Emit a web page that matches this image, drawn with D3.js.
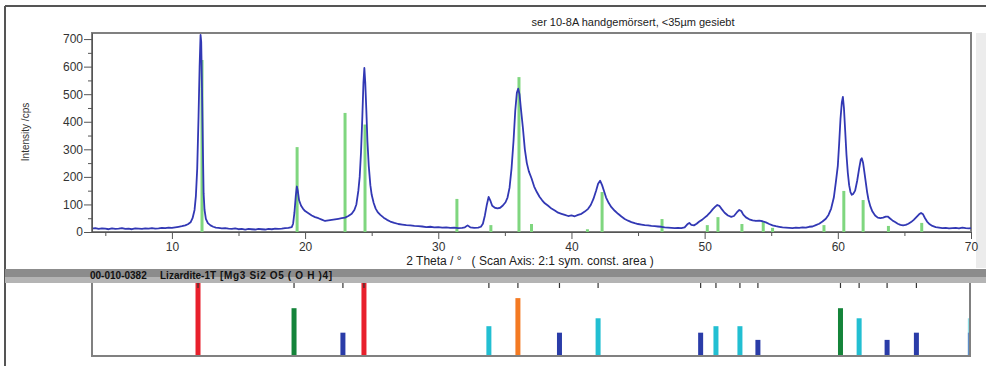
<!DOCTYPE html>
<html>
<head>
<meta charset="utf-8">
<script src="https://cdn.jsdelivr.net/npm/d3@7"></script>
<style>
  body { margin: 0; background: #fff; }
  svg { display: block; font-family: "Liberation Sans", Arial, sans-serif; }
  .axis path, .axis line { stroke: #555; }
  .axis text { fill: #333; font-size: 12px; }
</style>
</head>
<body>
<svg id="chart" width="986" height="366"></svg>
<script>
// measured scan, [2theta, counts]
const scan = [
  [4.0, 12], [4.25, 14], [4.5, 11], [4.75, 13], [5.0, 12], [5.25, 10], [5.5, 13], [5.75, 11],
  [6.0, 12], [6.25, 14], [6.5, 11], [6.75, 12], [7.0, 10], [7.25, 13], [7.5, 12], [7.75, 11],
  [8.0, 13], [8.25, 12], [8.5, 14], [8.75, 12], [9.0, 13], [9.25, 15], [9.5, 14], [9.75, 16],
  [10.0, 15], [10.25, 17], [10.5, 19], [10.75, 21], [11.0, 24], [11.2, 28], [11.4, 35], [11.55, 50],
  [11.7, 80], [11.8, 130], [11.9, 230], [12.0, 420], [12.08, 600], [12.15, 715], [12.2, 690],
  [12.26, 520], [12.32, 320], [12.38, 140], [12.45, 80], [12.55, 48], [12.7, 32], [12.9, 24],
  [13.1, 19], [13.3, 16], [13.5, 15], [13.75, 13], [14.0, 14], [14.25, 12], [14.5, 11], [14.75, 13],
  [15.0, 10], [15.25, 11], [15.5, 9], [15.75, 11], [16.0, 10], [16.25, 9], [16.5, 11], [16.75, 10],
  [17.0, 9], [17.25, 11], [17.5, 10], [17.75, 12], [18.0, 11], [18.25, 12], [18.5, 14], [18.75, 15],
  [19.0, 18], [19.1, 30], [19.2, 70], [19.3, 130], [19.38, 165], [19.45, 150], [19.55, 115],
  [19.7, 95], [19.85, 84], [20.0, 76], [20.25, 68], [20.5, 60], [20.75, 54], [21.0, 50], [21.25, 45],
  [21.5, 40], [21.75, 42], [22.0, 44], [22.25, 46], [22.5, 48], [22.75, 50], [23.0, 52], [23.25, 58],
  [23.5, 66], [23.7, 80], [23.85, 100], [24.0, 150], [24.1, 200], [24.2, 290], [24.3, 420],
  [24.38, 540], [24.45, 595], [24.52, 540], [24.6, 440], [24.68, 330], [24.78, 240], [24.9, 170],
  [25.0, 135], [25.15, 105], [25.3, 85], [25.45, 72], [25.65, 62], [25.9, 52], [26.15, 44],
  [26.4, 38], [26.7, 33], [27.0, 29], [27.3, 27], [27.6, 25], [27.9, 24], [28.2, 22], [28.5, 21],
  [28.8, 20], [29.1, 18], [29.4, 19], [29.7, 17], [30.0, 18], [30.3, 16], [30.6, 17], [30.9, 15],
  [31.2, 16], [31.5, 14], [31.8, 15], [32.0, 17], [32.2, 24], [32.4, 17], [32.7, 15], [33.0, 16],
  [33.2, 19], [33.35, 30], [33.5, 60], [33.65, 100], [33.78, 127], [33.9, 115], [34.05, 95],
  [34.25, 88], [34.45, 86], [34.65, 88], [34.85, 96], [35.05, 108], [35.2, 125], [35.35, 160],
  [35.5, 230], [35.65, 330], [35.78, 440], [35.9, 505], [36.0, 520], [36.1, 500], [36.2, 450],
  [36.35, 380], [36.5, 300], [36.65, 250], [36.8, 220], [37.0, 195], [37.2, 165], [37.4, 145],
  [37.6, 128], [37.8, 115], [38.0, 104], [38.25, 95], [38.5, 85], [38.75, 78], [39.0, 70],
  [39.25, 66], [39.5, 62], [39.75, 58], [40.0, 60], [40.25, 57], [40.5, 62], [40.75, 66], [41.0, 74],
  [41.25, 84], [41.45, 98], [41.65, 120], [41.85, 150], [42.0, 175], [42.15, 186], [42.3, 170],
  [42.45, 148], [42.6, 125], [42.8, 105], [43.0, 90], [43.25, 77], [43.5, 66], [43.75, 56],
  [44.0, 47], [44.25, 41], [44.5, 36], [44.75, 32], [45.0, 29], [45.25, 27], [45.5, 25], [45.75, 24],
  [46.0, 22], [46.25, 21], [46.5, 20], [46.75, 19], [47.0, 17], [47.25, 16], [47.5, 15], [47.75, 14],
  [48.0, 15], [48.25, 14], [48.5, 17], [48.7, 28], [48.85, 33], [49.0, 26], [49.2, 24], [49.4, 30],
  [49.6, 38], [49.8, 44], [50.0, 52], [50.2, 60], [50.4, 70], [50.6, 82], [50.8, 92], [50.95, 98],
  [51.1, 95], [51.3, 82], [51.5, 70], [51.75, 60], [52.0, 55], [52.2, 58], [52.4, 70], [52.6, 80],
  [52.75, 76], [52.9, 63], [53.1, 53], [53.35, 46], [53.6, 42], [53.85, 40], [54.1, 41], [54.35, 39],
  [54.6, 35], [54.85, 29], [55.1, 24], [55.35, 21], [55.6, 19], [55.85, 17], [56.1, 16], [56.35, 15],
  [56.6, 14], [56.85, 16], [57.1, 15], [57.35, 17], [57.6, 16], [57.85, 19], [58.1, 20], [58.35, 25],
  [58.6, 30], [58.85, 38], [59.1, 48], [59.3, 62], [59.5, 85], [59.7, 125], [59.85, 180], [60.0, 240],
  [60.1, 320], [60.2, 410], [60.3, 470], [60.38, 490], [60.46, 450], [60.55, 370], [60.65, 280],
  [60.75, 215], [60.85, 170], [60.95, 145], [61.05, 135], [61.15, 138], [61.3, 150], [61.45, 185],
  [61.6, 230], [61.72, 262], [61.8, 268], [61.9, 250], [62.0, 215], [62.1, 180], [62.2, 145],
  [62.3, 118], [62.45, 92], [62.6, 74], [62.8, 60], [63.0, 52], [63.2, 50], [63.4, 52], [63.6, 56],
  [63.75, 56], [63.9, 50], [64.1, 42], [64.3, 36], [64.5, 30], [64.7, 26], [64.9, 24], [65.1, 26],
  [65.3, 30], [65.5, 36], [65.7, 44], [65.9, 54], [66.1, 64], [66.25, 69], [66.4, 64], [66.55, 50],
  [66.7, 38], [66.9, 28], [67.1, 22], [67.35, 18], [67.6, 16], [67.85, 14], [68.1, 15], [68.35, 13],
  [68.6, 14], [68.85, 15], [69.1, 13], [69.35, 16], [69.6, 14], [69.85, 13], [70.0, 14]
];

// reference pattern sticks drawn in the scan window
const stickTheta  = [12.26, 19.4, 23.0, 24.5, 31.4, 33.95, 36.06, 37.0, 41.2, 42.3, 46.8, 50.2, 51.0, 52.8, 54.4, 55.1, 58.96, 60.45, 61.9, 63.8, 66.3];
const stickCounts = [624, 308, 432, 390, 120, 25, 562, 29, 10, 145, 47, 25, 54, 29, 40, 15, 25, 149, 116, 22, 33];

// 00-010-0382 Lizardite-1T, relative intensity
const refTheta = [11.96, 19.17, 22.84, 24.42, 33.8, 35.98, 39.1, 42.0, 49.7, 50.85, 52.65, 54.0, 60.2, 61.6, 63.7, 65.9, 69.95, 69.95];
const refRel   = [100, 65, 31, 100, 40, 79, 31, 51, 31, 40, 40, 21, 65, 51, 21, 31, 51, 31];

const yTicks = [0, 100, 200, 300, 400, 500, 600, 700];
const xTicks = [10, 20, 30, 40, 50, 60, 70];

const svg = d3.select('#chart');

const x = d3.scaleLinear().domain([4, 70]).range([92, 971]);
const y = d3.scaleLinear().domain([0, 722]).range([232, 33]);
const yRef = d3.scaleLinear().domain([0, 100]).range([355, 283]);
const refColor = d3.scaleThreshold()
  .domain([35, 60, 70, 90])
  .range(['#2a3ca8', '#22bfd2', '#14843a', '#f47a22', '#e8202c']);

// outer window frame
svg.append('rect').attr('x', 976).attr('y', 33).attr('width', 10).attr('height', 235).attr('fill', '#ececec');
svg.append('line').attr('x1', 5).attr('x2', 986).attr('y1', 6).attr('y2', 6).attr('stroke', '#555').attr('stroke-width', 2);
svg.append('line').attr('x1', 5).attr('x2', 5).attr('y1', 6).attr('y2', 366).attr('stroke', '#555').attr('stroke-width', 2);

svg.append('text')
  .attr('x', 633).attr('y', 26)
  .attr('text-anchor', 'middle')
  .attr('font-size', 11).attr('fill', '#222')
  .text('ser 10-8A handgemörsert, <35µm gesiebt');

// plot frame
svg.append('rect')
  .attr('x', x(4)).attr('y', y(722))
  .attr('width', x(70) - x(4)).attr('height', y(0) - y(722))
  .attr('fill', 'none').attr('stroke', '#808080').attr('stroke-width', 2);

// sticks
svg.append('g')
  .selectAll('line')
  .data(stickTheta)
  .join('line')
  .attr('x1', (d) => x(d)).attr('x2', (d) => x(d))
  .attr('y1', y(0)).attr('y2', (d, i) => y(stickCounts[i]))
  .attr('stroke', '#7fd67f').attr('stroke-width', 3);

// scan line
const line = d3.line().x((d) => x(d[0])).y((d) => y(d[1]));
svg.append('path')
  .datum(scan)
  .attr('d', line)
  .attr('fill', 'none')
  .attr('stroke', '#3238b4')
  .attr('stroke-width', 1.8)
  .attr('stroke-linejoin', 'round');

// axes
svg.append('g')
  .attr('class', 'axis')
  .attr('transform', `translate(${x(4)},0)`)
  .call(d3.axisLeft(y).tickValues(yTicks).tickSize(8).tickPadding(1).tickSizeOuter(0));
svg.append('g')
  .attr('class', 'axis')
  .attr('transform', `translate(${x(4)},0)`)
  .call(d3.axisLeft(y).tickValues([50, 150, 250, 350, 450, 550, 650]).tickSize(4).tickFormat('').tickSizeOuter(0));
svg.append('g')
  .attr('class', 'axis')
  .attr('transform', `translate(0,${y(0)})`)
  .call(d3.axisBottom(x).tickValues(xTicks).tickSize(7).tickPadding(3).tickSizeOuter(0));
svg.append('g')
  .attr('class', 'axis')
  .attr('transform', `translate(0,${y(0)})`)
  .call(d3.axisBottom(x).tickValues([5, 15, 25, 35, 45, 55, 65]).tickSize(4).tickFormat('').tickSizeOuter(0));

svg.append('text')
  .attr('x', 530).attr('y', 265)
  .attr('text-anchor', 'middle')
  .attr('font-size', 12).attr('fill', '#222')
  .attr('xml:space', 'preserve')
  .text('2 Theta / °   ( Scan Axis: 2:1 sym. const. area )');

svg.append('text')
  .attr('transform', 'translate(29,132) rotate(-90)')
  .attr('text-anchor', 'middle')
  .attr('font-size', 10).attr('fill', '#333')
  .text('Intensity /cps');

// separator band with phase label
svg.append('rect').attr('x', 5).attr('y', 269).attr('width', 981).attr('height', 14).attr('fill', '#b4b4b4');
svg.append('rect').attr('x', 5).attr('y', 269).attr('width', 981).attr('height', 8).attr('fill', '#8c8c8c');
const band = svg.append('g').attr('font-size', 10).attr('font-weight', 'bold').attr('fill', '#111');
band.append('text').attr('x', 90).attr('y', 279).text('00-010-0382');
band.append('text').attr('x', 160).attr('y', 279).text('Lizardite-1T');
band.append('text').attr('x', 220).attr('y', 279)
  .attr('textLength', 112).attr('lengthAdjust', 'spacing').text('[Mg3 Si2 O5 ( O H )4]');

// reference pattern panel
svg.append('clipPath').attr('id', 'refclip')
  .append('rect').attr('x', 92).attr('y', 283).attr('width', 878).attr('height', 73);

svg.append('g')
  .attr('clip-path', 'url(#refclip)')
  .selectAll('rect')
  .data(refTheta)
  .join('rect')
  .attr('x', (d) => x(d) - 2.5)
  .attr('width', 5)
  .attr('y', (d, i) => yRef(refRel[i]))
  .attr('height', (d, i) => yRef(0) - yRef(refRel[i]))
  .attr('fill', (d, i) => refColor(refRel[i]))
  .attr('opacity', (d) => (d > 69.5 ? 0.5 : 1));

svg.append('g')
  .selectAll('line')
  .data(refTheta.filter((d) => d < 69.5))
  .join('line')
  .attr('x1', (d) => x(d)).attr('x2', (d) => x(d))
  .attr('y1', 283).attr('y2', 288)
  .attr('stroke', '#333').attr('stroke-width', 1.2);

svg.append('path')
  .attr('d', `M92,283V356H970V283`)
  .attr('fill', 'none').attr('stroke', '#808080').attr('stroke-width', 2);
</script>
</body>
</html>
